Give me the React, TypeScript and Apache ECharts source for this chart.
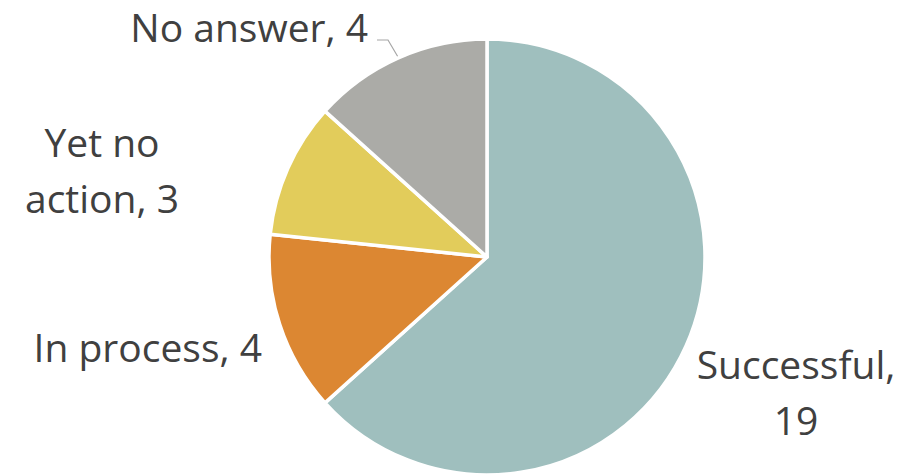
import React, { useEffect, useRef } from "react";
import * as echarts from "echarts";

const categories = ["Successful", "In process", "Yet no action", "No answer"];
const values = [19, 4, 3, 4];
const colors = ["#9FBFBE", "#DC8732", "#E2CC5B", "#ABABA7"];
const labelTexts = ["Successful,\n19", "In process, 4", "Yet no\naction, 3", "No answer, 4"];

const labelPlaces: { x: number; y: number; align: string }[] = [
  { x: 796, y: 391, align: "center" },
  { x: 262, y: 346, align: "right" },
  { x: 102, y: 169, align: "center" },
  { x: 368, y: 26, align: "right" },
];

export default function App() {
  const ref = useRef<HTMLDivElement>(null);
  useEffect(() => {
    if (!ref.current) return;
    const chart = echarts.init(ref.current, undefined, { renderer: "svg" });
    chart.setOption({
      animation: false,
      backgroundColor: "#FFFFFF",
      series: [
        {
          type: "pie",
          center: [487, 257],
          radius: 218,
          startAngle: 90,
          clockwise: true,
          data: categories.map((name, i) => ({
            name,
            value: values[i],
            itemStyle: { color: colors[i] },
            labelLine: { show: i === 3 },
          })),
          itemStyle: { borderColor: "#FFFFFF", borderWidth: 3.5 },
          label: {
            show: true,
            position: "outside",
            overflow: "none",
            formatter: (p: any) => labelTexts[p.dataIndex],
            fontFamily: "Open Sans",
            fontSize: 39,
            lineHeight: 56,
            color: "#404040",
          },
          labelLine: {
            show: false,
            lineStyle: { color: "#A6A6A6", width: 1.2 },
          },
          labelLayout: (p: any) => {
            const pl = labelPlaces[p.dataIndex];
            const out: any = {
              x: pl.x,
              y: pl.y,
              align: pl.align,
              verticalAlign: "middle",
              width: 400,
            };
            if (p.dataIndex === 3) {
              out.labelLinePoints = [
                [398, 57],
                [388, 40],
                [377, 40],
              ];
            }
            return out;
          },
          emphasis: { disabled: true },
        },
      ],
    });
    return () => chart.dispose();
  }, []);
  return (
    <div
      ref={ref}
      style={{ position: "fixed", left: 0, top: 0, width: 909, height: 475 }}
    />
  );
}
